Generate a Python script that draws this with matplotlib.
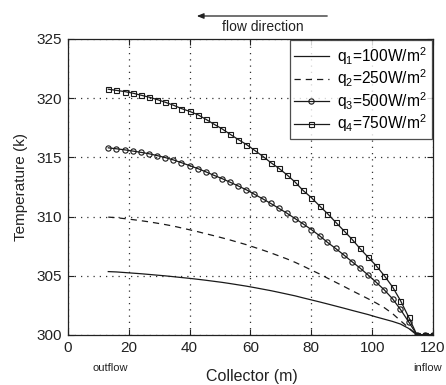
import matplotlib
matplotlib.use("Agg")
import matplotlib.pyplot as plt

plt.rcParams['font.family'] = ['Liberation Sans', 'DejaVu Sans']
plt.rcParams['mathtext.fontset'] = 'custom'
plt.rcParams['mathtext.rm'] = 'Liberation Sans'
plt.rcParams['mathtext.it'] = 'Liberation Sans'

x = [13.3, 16.0, 18.7, 21.3, 24.0, 26.7, 29.3, 32.0, 34.7, 37.3, 40.0, 42.7, 45.3, 48.0,
     50.7, 53.3, 56.0, 58.7, 61.3, 64.0, 66.7, 69.3, 72.0, 74.7, 77.3, 80.0, 82.7, 85.3,
     88.0, 90.7, 93.3, 96.0, 98.7, 101.3, 104.0, 106.7, 109.3, 112.0, 114.7, 117.3, 120.0]

q1 = [305.35, 305.32, 305.27, 305.22, 305.17, 305.11, 305.05, 304.99, 304.92, 304.85, 304.78,
      304.70, 304.62, 304.53, 304.44, 304.34, 304.23, 304.12, 304.00, 303.87, 303.74, 303.60,
      303.45, 303.30, 303.13, 302.96, 302.79, 302.62, 302.44, 302.26, 302.08, 301.90, 301.72,
      301.52, 301.33, 301.14, 300.92, 300.55, 300.00, 300.00, 300.00]

q2 = [309.95, 309.90, 309.82, 309.74, 309.65, 309.55, 309.44, 309.32, 309.19, 309.04, 308.88,
      308.72, 308.55, 308.38, 308.20, 308.02, 307.82, 307.62, 307.40, 307.17, 306.93, 306.68,
      306.42, 306.13, 305.82, 305.48, 305.15, 304.80, 304.45, 304.10, 303.75, 303.40, 303.05,
      302.70, 302.30, 301.80, 301.20, 300.60, 300.00, 300.00, 300.00]

q3 = [315.80, 315.72, 315.63, 315.53, 315.42, 315.30, 315.15, 314.98, 314.78, 314.55, 314.30,
      314.05, 313.78, 313.48, 313.20, 312.90, 312.58, 312.25, 311.88, 311.50, 311.10, 310.70,
      310.28, 309.82, 309.38, 308.90, 308.38, 307.82, 307.30, 306.75, 306.20, 305.65, 305.05,
      304.45, 303.80, 303.05, 302.15, 301.10, 300.00, 300.00, 300.00]

q4 = [320.75, 320.65, 320.55, 320.42, 320.25, 320.08, 319.88, 319.65, 319.40, 319.12, 318.88,
      318.60, 318.22, 317.80, 317.40, 316.95, 316.50, 316.08, 315.60, 315.10, 314.55, 314.08,
      313.52, 312.90, 312.20, 311.60, 310.90, 310.25, 309.52, 308.80, 308.10, 307.30, 306.55,
      305.85, 305.00, 304.05, 302.90, 301.50, 300.00, 300.00, 300.00]

labels = [r'q$_1$=100W/m$^2$', r'q$_2$=250W/m$^2$', r'q$_3$=500W/m$^2$', r'q$_4$=750W/m$^2$']
xticks = [0, 20, 40, 60, 80, 100, 120]
yticks = [300, 305, 310, 315, 320, 325]

fig = plt.figure(figsize=(4.46, 3.85), dpi=100)
ax = fig.add_axes([0.152, 0.130, 0.819, 0.769])

lc = '#1a1a1a'
tc = '#222222'
ax.plot(x, q1, '-', color=lc, lw=0.9, label=labels[0])
ax.plot(x, q2, '--', color=lc, lw=0.9, dashes=(5, 4), label=labels[1])
ax.plot(x, q3, '-', color=lc, lw=0.9, marker='o', ms=3.8, mfc='none', mec=lc, mew=0.8, label=labels[2])
ax.plot(x, q4, '-', color=lc, lw=0.9, marker='s', ms=3.6, mfc='none', mec=lc, mew=0.8, label=labels[3])

ax.set_xlim(0, 120)
ax.set_ylim(300, 325)
ax.set_xticks(xticks)
ax.set_yticks(yticks)
ax.tick_params(direction='in', top=True, right=True, length=4, width=0.8, labelsize=11, colors=tc, pad=4)
ax.grid(True, linestyle=(0, (1, 4)), color='#333333', lw=0.9)
for s in ax.spines.values():
    s.set_linewidth(0.9)
    s.set_color(tc)

ax.set_xlabel('Collector (m)', fontsize=11.5, color=tc, va='center')
ax.xaxis.set_label_coords(0.504, -0.142)
ax.set_ylabel('Temperature (k)', fontsize=11, labelpad=6, color=tc)

ax.text(0.115, -0.111, 'outflow', transform=ax.transAxes, fontsize=8, ha='center', va='center', color=tc)
ax.text(0.986, -0.111, 'inflow', transform=ax.transAxes, fontsize=8, ha='center', va='center', color=tc)

fig.text(263 / 446, 1 - 27 / 385, 'flow direction', fontsize=10, ha='center', va='center', color=tc)
fig.patches.append(matplotlib.patches.FancyArrowPatch(
    (330 / 446, 1 - 16 / 385), (194 / 446, 1 - 16 / 385), transform=fig.transFigure,
    arrowstyle='-|>,head_length=4,head_width=1.6', color=tc, lw=0.9))

leg = ax.legend(loc='upper right', fontsize=11.2, frameon=True, fancybox=False, edgecolor=tc,
                handlelength=2.2, borderaxespad=0.1, labelspacing=0.05, handletextpad=0.55,
                borderpad=0.3)
leg.get_frame().set_linewidth(0.9)

fig.savefig('out.png', dpi=100)
